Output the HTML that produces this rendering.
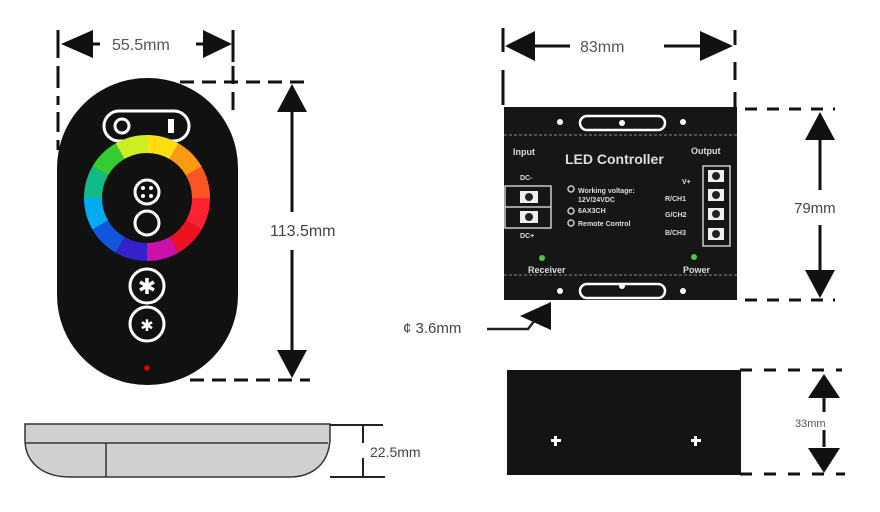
<!DOCTYPE html>
<html><head><meta charset="utf-8"><style>
html,body{margin:0;padding:0;background:#fff;}
svg{display:block;font-family:"Liberation Sans",sans-serif;}
</style></head><body>
<svg width="880" height="512" viewBox="0 0 880 512">
<!-- 55.5mm dimension -->
<g stroke="#111" stroke-width="3">
<line x1="58" y1="30" x2="58" y2="58"/><line x1="58" y1="66" x2="58" y2="105" stroke-dasharray="22,8"/><line x1="58" y1="112" x2="58" y2="150" stroke-dasharray="20,8"/>
<line x1="233" y1="30" x2="233" y2="62"/><line x1="233" y1="66" x2="233" y2="115" stroke-dasharray="18,8"/>
<line x1="85" y1="44" x2="100" y2="44"/><line x1="196" y1="44" x2="215" y2="44"/>
</g>
<polygon points="61,44 93,30 93,58" fill="#111"/>
<polygon points="232,44 203,30 203,58" fill="#111"/>
<text x="112" y="50" font-size="16" fill="#555">55.5mm</text>
<!-- remote top/bottom dashed -->
<g stroke="#111" stroke-width="3" stroke-dasharray="14,8">
<line x1="180" y1="82" x2="310" y2="82"/><line x1="190" y1="380" x2="310" y2="380"/>
</g>
<line x1="292" y1="100" x2="292" y2="212" stroke="#111" stroke-width="3"/>
<line x1="292" y1="250" x2="292" y2="360" stroke="#111" stroke-width="3"/>
<polygon points="292,84 277,112 307,112" fill="#111"/>
<polygon points="292,378 277,350 307,350" fill="#111"/>
<text x="270" y="236" font-size="16" fill="#444">113.5mm</text>
<!-- remote -->
<rect x="57" y="78" width="181" height="307" rx="90" fill="#111"/>
<rect x="104" y="111" width="85" height="30" rx="15" fill="none" stroke="#fff" stroke-width="3"/>
<circle cx="122" cy="126" r="7" fill="none" stroke="#fff" stroke-width="3"/>
<rect x="168" y="119" width="6" height="14" fill="#fff"/>
<g fill="none" stroke-width="18">
<path d="M201,198 A54,54 0 0 1 193.8,225" stroke="#f23"/>
<path d="M193.8,225 A54,54 0 0 1 174,244.8" stroke="#e12"/>
<path d="M174,244.8 A54,54 0 0 1 147,252" stroke="#c1a"/>
<path d="M147,252 A54,54 0 0 1 120,244.8" stroke="#32c"/>
<path d="M120,244.8 A54,54 0 0 1 100.2,225" stroke="#15d"/>
<path d="M100.2,225 A54,54 0 0 1 93,198" stroke="#0ae"/>
<path d="M93,198 A54,54 0 0 1 100.2,171" stroke="#1b8"/>
<path d="M100.2,171 A54,54 0 0 1 120,151.2" stroke="#3c3"/>
<path d="M120,151.2 A54,54 0 0 1 147,144" stroke="#ce2"/>
<path d="M147,144 A54,54 0 0 1 174,151.2" stroke="#fd1"/>
<path d="M174,151.2 A54,54 0 0 1 193.8,171" stroke="#f91"/>
<path d="M193.8,171 A54,54 0 0 1 201,198" stroke="#f52"/>
</g>
<circle cx="147" cy="192" r="12" fill="none" stroke="#fff" stroke-width="3"/>
<circle cx="143" cy="188" r="2" fill="#fff"/><circle cx="151" cy="188" r="2" fill="#fff"/><circle cx="143" cy="196" r="2" fill="#fff"/><circle cx="151" cy="196" r="2" fill="#fff"/>
<circle cx="147" cy="223" r="12" fill="none" stroke="#fff" stroke-width="3"/>
<circle cx="147" cy="286" r="17" fill="none" stroke="#fff" stroke-width="3"/>
<text x="147" y="294" font-size="22" fill="#fff" text-anchor="middle">✱</text>
<circle cx="147" cy="324" r="17" fill="none" stroke="#fff" stroke-width="3"/>
<text x="147" y="331" font-size="16" fill="#fff" text-anchor="middle">✱</text>
<circle cx="147" cy="368" r="3" fill="#c00"/>
<!-- side view -->
<path d="M25,424 H330 V440 C328,470 305,477 290,477 H70 C40,477 25,460 25,440 Z" fill="#d0d0d0" stroke="#333" stroke-width="1.5"/>
<line x1="25" y1="443" x2="328" y2="443" stroke="#333" stroke-width="1.5"/>
<line x1="106" y1="443" x2="106" y2="477" stroke="#333" stroke-width="1.5"/>
<g stroke="#222" stroke-width="2"><line x1="330" y1="425" x2="383" y2="425"/><line x1="330" y1="477" x2="385" y2="477"/>
<line x1="363" y1="425" x2="363" y2="443"/><line x1="363" y1="458" x2="363" y2="477"/></g>
<text x="370" y="457" font-size="14" fill="#444">22.5mm</text>
<!-- 83mm -->
<g stroke="#111" stroke-width="3">
<line x1="503" y1="28" x2="503" y2="52"/><line x1="503" y1="70" x2="503" y2="105"/>
<line x1="735" y1="30" x2="735" y2="45"/><line x1="735" y1="62" x2="735" y2="80" /><line x1="735" y1="92" x2="735" y2="108"/>
<line x1="530" y1="46" x2="570" y2="46"/><line x1="664" y1="46" x2="705" y2="46"/>
<line x1="745" y1="109" x2="835" y2="109" stroke-dasharray="12,10"/>
<line x1="745" y1="300" x2="835" y2="300" stroke-dasharray="12,10"/>
</g>
<polygon points="505,46 535,31 535,61" fill="#111"/>
<polygon points="733,46 700,31 700,61" fill="#111"/>
<text x="580" y="52" font-size="16" fill="#555">83mm</text>
<!-- controller -->
<rect x="504" y="107" width="233" height="193" fill="#161616"/>
<line x1="504" y1="135" x2="737" y2="135" stroke="#888" stroke-dasharray="3,2"/>
<line x1="504" y1="275" x2="737" y2="275" stroke="#888" stroke-dasharray="3,2"/>
<rect x="580" y="116" width="85" height="14" rx="7" fill="none" stroke="#fff" stroke-width="2.5"/>
<circle cx="622" cy="123" r="3" fill="#fff"/>
<circle cx="560" cy="122" r="3" fill="#fff"/><circle cx="683" cy="122" r="3" fill="#fff"/>
<rect x="580" y="284" width="85" height="14" rx="7" fill="none" stroke="#fff" stroke-width="2.5"/>
<circle cx="622" cy="286" r="3" fill="#fff"/>
<circle cx="560" cy="291" r="3" fill="#fff"/><circle cx="683" cy="291" r="3" fill="#fff"/>
<g fill="#ddd" font-weight="bold">
<text x="513" y="155" font-size="9">Input</text>
<text x="565" y="164" font-size="14">LED Controller</text>
<text x="691" y="154" font-size="9">Output</text>
<text x="520" y="180" font-size="7">DC-</text>
<text x="520" y="238" font-size="7">DC+</text>
<text x="578" y="193" font-size="7">Working voltage:</text>
<text x="578" y="202" font-size="7">12V/24VDC</text>
<text x="578" y="213" font-size="7">6AX3CH</text>
<text x="578" y="226" font-size="7">Remote Control</text>
<text x="682" y="184" font-size="7">V+</text>
<text x="665" y="201" font-size="7">R/CH1</text>
<text x="665" y="217" font-size="7">G/CH2</text>
<text x="665" y="235" font-size="7">B/CH3</text>
<text x="528" y="273" font-size="9">Receiver</text>
<text x="683" y="273" font-size="9">Power</text>
</g>
<g fill="none" stroke="#ccc" stroke-width="1.5">
<rect x="505" y="186" width="46" height="42"/><line x1="505" y1="207" x2="551" y2="207"/>
<rect x="703" y="166" width="27" height="80"/>
<circle cx="571" cy="189" r="3"/><circle cx="571" cy="211" r="3"/><circle cx="571" cy="223" r="3"/>
</g>
<g fill="#eee">
<rect x="520" y="191" width="18" height="12"/><rect x="520" y="211" width="18" height="12"/>
<rect x="708" y="170" width="16" height="12"/><rect x="708" y="189" width="16" height="12"/><rect x="708" y="208" width="16" height="12"/><rect x="708" y="228" width="16" height="12"/>
</g>
<g fill="#222"><circle cx="529" cy="197" r="4"/><circle cx="529" cy="217" r="4"/><circle cx="716" cy="176" r="4"/><circle cx="716" cy="195" r="4"/><circle cx="716" cy="214" r="4"/><circle cx="716" cy="234" r="4"/></g>
<circle cx="542" cy="258" r="3" fill="#4c4"/><circle cx="694" cy="257" r="3" fill="#4c4"/>
<!-- 79mm -->
<line x1="820" y1="135" x2="820" y2="190" stroke="#111" stroke-width="3"/>
<line x1="820" y1="225" x2="820" y2="275" stroke="#111" stroke-width="3"/>
<polygon points="820,112 805,140 835,140" fill="#111"/>
<polygon points="820,298 805,270 835,270" fill="#111"/>
<text x="794" y="213" font-size="15" fill="#444">79mm</text>
<!-- 3.6mm -->
<text x="403" y="333" font-size="15" fill="#444">¢ 3.6mm</text>
<polyline points="487,329 528,329 535,320" fill="none" stroke="#222" stroke-width="2.5"/>
<polygon points="520,316 551,302 551,330" fill="#111"/>
<!-- side controller -->
<rect x="507" y="370" width="234" height="105" fill="#141414"/>
<g fill="#fff"><rect x="551" y="439" width="10" height="3"/><rect x="554" y="436" width="3" height="10"/>
<rect x="691" y="439" width="10" height="3"/><rect x="694" y="436" width="3" height="10"/></g>
<g stroke="#111" stroke-width="3" stroke-dasharray="12,12">
<line x1="740" y1="370" x2="842" y2="370"/><line x1="740" y1="474" x2="845" y2="474"/></g>
<line x1="824" y1="395" x2="824" y2="412" stroke="#111" stroke-width="3"/>
<line x1="824" y1="430" x2="824" y2="447" stroke="#111" stroke-width="3"/>
<polygon points="824,374 808,398 840,398" fill="#111"/>
<polygon points="824,473 808,448 840,448" fill="#111"/>
<text x="795" y="427" font-size="11" fill="#555">33mm</text>
</svg>
</body></html>
